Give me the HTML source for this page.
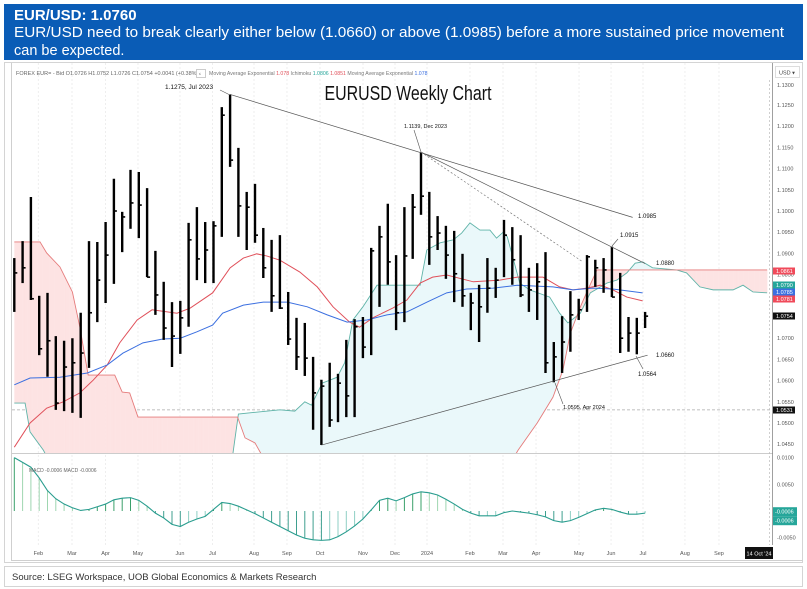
<!DOCTYPE html>
<html><head><meta charset="utf-8"><style>
html,body{margin:0;padding:0;background:#fff;width:807px;height:589px;overflow:hidden}
svg{display:block;font-family:"Liberation Sans",sans-serif}
</style></head><body>
<svg id="chart" width="807" height="589" viewBox="0 0 807 589" xmlns="http://www.w3.org/2000/svg">
<rect x="4" y="4" width="799" height="56" fill="#0a5cb6"/>
<text x="14" y="20" fill="#fff" font-size="15" font-weight="bold">EUR/USD: 1.0760</text>
<text x="14" y="37" fill="#fff" font-size="14.5" textLength="770" lengthAdjust="spacingAndGlyphs">EUR/USD need to break clearly either below (1.0660) or above (1.0985) before a more sustained price movement</text>
<text x="14" y="55" fill="#fff" font-size="14.5">can be expected.</text>
<rect x="4.5" y="62.5" width="798" height="500" fill="none" stroke="#d4d4d4"/>
<line x1="11.5" y1="63" x2="11.5" y2="560" stroke="#cfcfcf"/>
<line x1="11" y1="560.5" x2="803" y2="560.5" stroke="#cfcfcf"/>
<rect x="4.5" y="566.5" width="798" height="20" fill="none" stroke="#d4d4d4"/>
<text x="12" y="580" font-size="9.5" fill="#333">Source: LSEG Workspace, UOB Global Economics &amp; Markets Research</text>
<g id="grid"></g>
<g id="cloud" clip-path="url(#pc)"></g>
<g id="lines" clip-path="url(#pc)"></g>
<g id="bars"></g>
<g id="trend"></g>
<g id="macd"></g>
<g id="axes"></g>
<defs><clipPath id="pc"><rect x="12" y="63" width="758" height="390"/></clipPath></defs>
<text x="408" y="100" font-size="20" text-anchor="middle" textLength="167" lengthAdjust="spacingAndGlyphs" fill="#111">EURUSD Weekly Chart</text>
<text x="16" y="75" font-size="5.5" fill="#666">FOREX EUR= - Bid   O1.0726 H1.0752 L1.0726 C1.0754 +0.0041 (+0.38%)</text>
<rect x="196.5" y="69.5" width="9" height="8" fill="#fff" stroke="#ccc"/>
<text x="199" y="75.5" font-size="5.5" fill="#444">‹</text>
<text x="209" y="75" font-size="5.2" fill="#777">Moving Average Exponential <tspan fill="#e0505a">1.078</tspan>  Ichimoku <tspan fill="#26a69a">1.0806</tspan> <tspan fill="#e0505a">1.0851</tspan>  Moving Average Exponential <tspan fill="#3b6fe0">1.078</tspan></text>
<rect x="775.5" y="66.5" width="24" height="11" fill="#fff" stroke="#ddd"/>
<text x="779" y="74.5" font-size="5.5" fill="#444">USD ▾</text>
</svg>
<script>
// ---- data ----
const highs=[1.0889,1.0929,1.1033,1.0800,1.0807,1.0705,1.0694,1.0700,1.0760,1.0929,1.0927,1.0974,1.1076,1.0998,1.1097,1.1092,1.1054,1.0906,1.0833,1.0785,1.0788,1.0972,1.1009,1.0974,1.0976,1.1245,1.1275,1.1149,1.1045,1.1064,1.0960,1.0932,1.0943,1.0809,1.0748,1.0736,1.0656,1.0602,1.0642,1.0616,1.0696,1.0745,1.0750,1.0913,1.0965,1.1017,1.0896,1.1009,1.1040,1.1139,1.1045,1.0988,1.0965,1.0953,1.0899,1.0807,1.0826,1.0889,1.0866,1.0979,1.0962,1.0943,1.0866,1.0877,1.0903,1.0691,1.0752,1.0811,1.0793,1.0896,1.0885,1.0889,1.0916,1.0854,1.0750,1.0748,1.0762];
const lows=[1.0762,1.0830,1.0790,1.0660,1.0609,1.0531,1.0528,1.0524,1.0512,1.0630,1.0738,1.0783,1.0828,1.0903,1.0958,1.0936,1.0844,1.0755,1.0696,1.0632,1.0663,1.0727,1.0837,1.0830,1.0830,1.0939,1.1104,1.0939,1.0908,1.0925,1.0842,1.0762,1.0769,1.0684,1.0625,1.0611,1.0484,1.0448,1.0491,1.0502,1.0514,1.0514,1.0653,1.0660,1.0774,1.0826,1.0719,1.0738,1.0887,1.0991,1.0873,1.0908,1.0840,1.0785,1.0774,1.0719,1.0691,1.0760,1.0795,1.0844,1.0826,1.0797,1.0762,1.0743,1.0618,1.0596,1.0618,1.0668,1.0743,1.0762,1.0821,1.0807,1.0797,1.0665,1.0668,1.0662,1.0724];
const closes=[1.0854,1.0866,1.0793,1.0675,1.0694,1.0547,1.0632,1.0642,1.0665,1.0760,1.0837,1.0896,1.1000,1.0986,1.1019,1.1014,1.0844,1.0802,1.0724,1.0705,1.0748,1.0932,1.0887,1.0908,1.0965,1.1226,1.1120,1.1012,1.1009,1.0943,1.0866,1.0800,1.0771,1.0698,1.0656,1.0653,1.0571,1.0587,1.0507,1.0594,1.0564,1.0727,1.0679,1.0906,1.0939,1.0880,1.0760,1.0894,1.1009,1.1035,1.0939,1.0948,1.0896,1.0852,1.0800,1.0783,1.0774,1.0818,1.0837,1.0943,1.0885,1.0802,1.0814,1.0833,1.0642,1.0656,1.0691,1.0755,1.0767,1.0892,1.0866,1.0861,1.0797,1.0700,1.0712,1.0712,1.0752];
const maFastWeeks=[0,1.9,3.9,5.9,7.9,9.5,11.2,12.7,14.8,16.6,19.6,21.2,23.9,26,27.6,29.2,30.4,32,34.4,36.5,38.4,40.4,41.6,43.2,45.6,47.3,48.9,50.4,52.1,55.3,58.5,60.6,63.7,65.7,67.3,69,70.6,72.1,73.8,75.7];
const maFast=[1.0443,1.0500,1.0535,1.0550,1.0571,1.0601,1.0637,1.0689,1.0743,1.0767,1.0759,1.0771,1.0807,1.0866,1.0889,1.0899,1.0894,1.0884,1.0856,1.0821,1.0774,1.0738,1.0726,1.0748,1.0771,1.0790,1.0830,1.0844,1.0849,1.0833,1.0837,1.0844,1.0844,1.0821,1.0814,1.0818,1.0825,1.0814,1.0797,1.0788];
const maSlowWeeks=[0,1.9,5.5,8.8,11.2,13.1,15.5,17.9,20,22,23.9,25.1,27.6,30,32.9,35.3,37.7,40.1,42.5,44.9,47.3,49.7,52.1,54.5,57.7,60.6,64.9,67.3,69.7,72.1,75.7];
const maSlow=[1.0590,1.0606,1.0608,1.0618,1.0637,1.0665,1.0689,1.0698,1.0700,1.0715,1.0731,1.0759,1.0778,1.0785,1.0785,1.0774,1.0755,1.0738,1.0743,1.0755,1.0762,1.0785,1.0807,1.0816,1.0818,1.0825,1.0821,1.0814,1.0818,1.0816,1.0807];
const spanAWeeks=[0,1.3,1.9,3.5,5,26,27,28.4,32,33.8,35,35.8,37.1,38.9,39.8,40.8,42,43.7,48.9,49.7,51.3,52.9,53.9,54.9,56.1,57.3,58.1,58.9,59.4,60.9,62.1,64.5,65.7,66.7,68.2,69.4,71.4,72.6,73.8,74.8,75.7,76.9,79.8,81,82.6,84.2,86.6,87.8,89,90.7];
const spanA=[1.0547,1.0547,1.0479,1.0436,1.038,1.038,1.0521,1.0524,1.0531,1.0528,1.0550,1.0542,1.0594,1.0608,1.0642,1.0743,1.0774,1.0825,1.0825,1.0908,1.0925,1.0932,1.0948,1.0972,1.0955,1.0955,1.0936,1.0950,1.0939,1.0830,1.0814,1.0797,1.0759,1.0736,1.0759,1.0807,1.0830,1.0837,1.0854,1.0877,1.0880,1.0866,1.0861,1.0854,1.0821,1.0814,1.0814,1.0825,1.0809,1.0807];
const spanBWeeks=[0,3.1,3.9,5.5,7,7.9,8.9,12.1,13,13.9,14.9,26.9,27.8,29,29.8,31,59,60.7,63,64.9,66.1,67,68.2,69.1,70.2,90.7];
const spanB=[1.0927,1.0927,1.0901,1.0868,1.0809,1.0726,1.0613,1.0613,1.0573,1.0571,1.0514,1.0514,1.0465,1.0453,1.0425,1.038,1.038,1.0436,1.0500,1.0561,1.0625,1.0712,1.0774,1.0814,1.0861,1.0861];
const macdVals=[0.0100,0.0091,0.0082,0.0062,0.0038,0.0023,0.0013,0.0006,0.0001,0.0003,0.0008,0.0013,0.0021,0.0024,0.0025,0.0020,0.0009,-0.0004,-0.0013,-0.0025,-0.0029,-0.0021,-0.0015,-0.0010,0.0003,0.0016,0.0014,0.0009,0.0002,-0.0005,-0.0013,-0.0021,-0.0029,-0.0037,-0.0045,-0.0051,-0.0054,-0.0055,-0.0054,-0.0048,-0.0039,-0.0028,-0.0015,0.0002,0.0020,0.0024,0.0019,0.0025,0.0032,0.0036,0.0034,0.0030,0.0022,0.0013,0.0003,-0.0004,-0.0009,-0.0009,-0.0009,-0.0003,0.0000,-0.0002,-0.0004,-0.0007,-0.0011,-0.0018,-0.0021,-0.0018,-0.0012,-0.0005,0.0002,0.0005,0.0003,-0.0002,-0.0006,-0.0006,-0.0004];
const priceTicks=[1.1300,1.1250,1.1200,1.1150,1.1100,1.1050,1.1000,1.0950,1.0900,1.0850,1.0800,1.0750,1.0700,1.0650,1.0600,1.0550,1.0500,1.0450];
const macdTicks=[0.0100,0.0050,-0.0050];
const monthLabels=["Feb","Mar","Apr","May","Jun","Jul","Aug","Sep","Oct","Nov","Dec","2024","Feb","Mar","Apr","May","Jun","Jul","Aug","Sep"];
const monthWeeks=[2.9,6.95,10.99,14.9,19.96,23.88,28.88,32.85,36.83,42.01,45.87,49.72,54.9,58.88,62.86,68.04,71.9,75.75,80.8,84.9];
const trendStarts=[[26,1.1275],[49,1.1139],[49,1.1139],[37,1.0448]];
const trendEnds=[[74.5,1.0985],[76,1.0876],[68.5,1.0880],[76.3,1.0660]];
const badgeValues=["1.0861","1.0790","1.0785","1.0781","1.0754","1.0531"];

// ---- scales ----
const xS=i=>14.3+8.3*i;
const yP=p=>105+(1.125-p)*4240;
const yM=v=>511-v/0.005*26.7;
const NS="http://www.w3.org/2000/svg";
function mk(tag,attrs,parent){const e=document.createElementNS(NS,tag);for(const k in attrs)e.setAttribute(k,attrs[k]);parent.appendChild(e);return e;}
function interp(ws,vs,t){if(t<=ws[0])return vs[0];for(let k=1;k<ws.length;k++){if(t<=ws[k]){const f=(t-ws[k-1])/(ws[k]-ws[k-1]);return vs[k-1]+f*(vs[k]-vs[k-1]);}}return vs[vs.length-1];}
const G=id=>document.getElementById(id);

// grid
monthWeeks.forEach((w,k)=>{const x=xS(w);
const l=mk('line',{x1:x,y1:63,x2:x,y2:545,stroke:'#eeeeee','stroke-dasharray':'2,2'},G('grid'));

});
const hl=mk('line',{x1:12,y1:yP(1.0531),x2:770,y2:yP(1.0531),stroke:'#aaa','stroke-dasharray':'3,2','stroke-width':0.7},G('grid'));



// cloud
const step=0.2;
for(let t=0;t<90.7;t+=step){
 const t2=Math.min(t+step,90.7);
 const a1=interp(spanAWeeks,spanA,t),a2=interp(spanAWeeks,spanA,t2),b1=interp(spanBWeeks,spanB,t),b2=interp(spanBWeeks,spanB,t2);
 const pink=(b1+b2)>(a1+a2);
 const pg=mk('polygon',{points:`${xS(t)},${yP(a1)} ${xS(t2)+0.3},${yP(a2)} ${xS(t2)+0.3},${yP(b2)} ${xS(t)},${yP(b1)}`,fill:pink?'#fde3e3':'#eaf8fa'},G('cloud'));
 
 
}
function poly(ws,vs,color,name,w){const pts=ws.map((x,k)=>xS(x)+','+yP(vs[k])).join(' ');
 const p=mk('polyline',{points:pts,fill:'none',stroke:color,'stroke-width':w},G('lines'));
 
 }
poly(spanAWeeks,spanA,'#5fb3a8','ichimoku-span-a',0.9);
poly(spanBWeeks,spanB,'#e57b7b','ichimoku-span-b',0.9);
poly(maFastWeeks,maFast,'#e0505a','ema-fast-line',1);
poly(maSlowWeeks,maSlow,'#3b6fe0','ema-slow-line',1);

// bars
highs.forEach((h,i)=>{const x=xS(i);
 const b=mk('line',{x1:x,y1:yP(h),x2:x,y2:yP(lows[i]),stroke:'#000','stroke-width':2.4},G('bars'));
 
 
 const c=mk('line',{x1:x,y1:yP(closes[i]),x2:x+3,y2:yP(closes[i]),stroke:'#000','stroke-width':1.6},G('bars'));
 
 });

// trendlines
trendStarts.forEach((s,k)=>{const e=trendEnds[k];
 const l=mk('line',{x1:xS(s[0]),y1:yP(s[1]),x2:xS(e[0]),y2:yP(e[1]),stroke:k==2?'#777':'#555','stroke-width':0.7,'stroke-dasharray':k==2?'2,2':'none'},G('trend'));
 
 });
const notes=[["1.1275, Jul 2023",165,89,6.5,220,90,230,95],["1.1139, Dec 2023",404,128,5.5,414,130,421,152],["1.0985",638,218,6,0,0,0,0],["1.0915",620,237,6,618,239,612,246],["1.0880",656,265,6,0,0,0,0],["1.0660",656,357,6,0,0,0,0],["1.0564",638,376,6,636,356,643,369],["1.0595, Apr 2024",563,409,5.5,555,383,563,404]];
notes.forEach(n=>{const t=mk('text',{x:n[1],y:n[2],'font-size':n[3],fill:'#111'},G('trend'));t.textContent=n[0];
 
 
 if(n[4]){const l=mk('line',{x1:n[4],y1:n[5],x2:n[6],y2:n[7],stroke:'#555','stroke-width':0.6},G('trend'));
 
 }});

// macd
const sep=mk('line',{x1:12,y1:453.5,x2:773,y2:453.5,stroke:'#ccc'},G('macd'));


macdVals.forEach((v,i)=>{const prev=i?macdVals[i-1]:v;const rising=v>=prev;
 const col=v>=0?(rising?'#3aa06a':'#9ed6b0'):(rising?'#8fcfc4':'#3f9f8f');
 const h=mk('line',{x1:xS(i),y1:yM(0),x2:xS(i),y2:yM(v),stroke:col,'stroke-width':1},G('macd'));
 
 });
const ml=mk('polyline',{points:macdVals.map((v,i)=>xS(i)+','+yM(v)).join(' '),fill:'none',stroke:'#2a9d8f','stroke-width':1.1},G('macd'));


const mt=mk('text',{x:29,y:472,'font-size':5,fill:'#666'},G('macd'));mt.textContent='MACD  -0.0006  MACD  -0.0006';



// axes
const ax=G('axes');
const vl=mk('line',{x1:772.5,y1:63,x2:772.5,y2:545,stroke:'#888','stroke-width':0.8},ax);


const vd=mk('line',{x1:769.5,y1:80,x2:769.5,y2:545,stroke:'#bbb','stroke-dasharray':'2,2','stroke-width':0.7},ax);


priceTicks.forEach(p=>{let y=yP(p);if(y<84)y=85;
 const t=mk('text',{x:777,y:y+2,'font-size':5.5,fill:'#555'},ax);t.textContent=p.toFixed(4);
 
 });
macdTicks.forEach(v=>{const t=mk('text',{x:777,y:yM(v)+2,'font-size':5.5,fill:'#555'},ax);t.textContent=v.toFixed(4);
 
 });
const badgeY=[271,285,292,299,316,410];
const badgeCol=['#f04a5a','#26a69a','#3b6fe0','#f04a5a','#111','#111'];
badgeValues.forEach((b,k)=>{const y=badgeY[k];
 const r=mk('rect',{x:773,y:y-3.5,width:22,height:7,fill:badgeCol[k]},ax);
 
 
 const t=mk('text',{x:776,y:y+2,'font-size':5.5,fill:'#fff'},ax);t.textContent=b;
 
 });
[[yM(-0.0006)-6,'-0.0006'],[yM(-0.0006)+3,'-0.0006']].forEach(b=>{
 const r=mk('rect',{x:773,y:b[0]-1,width:24,height:9,fill:'#26a69a'},ax);
 
 
 const t=mk('text',{x:775,y:b[0]+5.5,'font-size':5.5,fill:'#fff'},ax);t.textContent=b[1];
 
 });
monthLabels.forEach((m,k)=>{const t=mk('text',{x:xS(monthWeeks[k]),y:555,'font-size':5.5,fill:'#555','text-anchor':'middle'},ax);t.textContent=m;
 
 });
const db=mk('rect',{x:745,y:547,width:28,height:12,fill:'#111'},ax);


const dt=mk('text',{x:759,y:555.5,'font-size':5.5,fill:'#fff','text-anchor':'middle'},ax);dt.textContent="14 Oct '24";


</script>
</body></html>
